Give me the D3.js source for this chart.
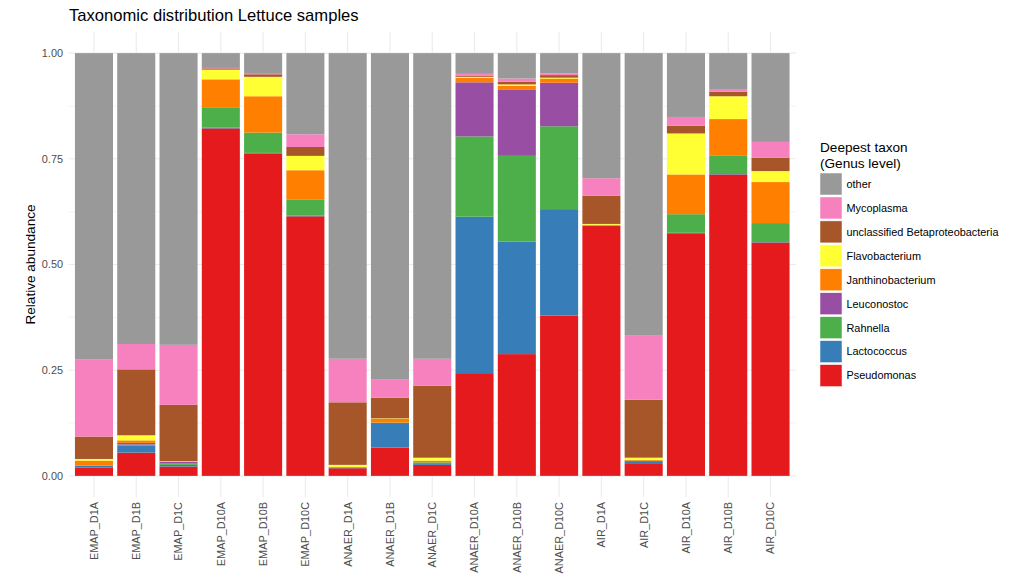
<!DOCTYPE html>
<html><head><meta charset="utf-8">
<script src="https://cdn.jsdelivr.net/npm/d3@7"></script>
<style>body{margin:0;background:#fff}svg{display:block;font-family:"Liberation Sans",Arial,sans-serif}</style>
</head><body><svg id="c" width="1011" height="575"></svg>
<script>
const samples = ["EMAP_D1A","EMAP_D1B","EMAP_D1C","EMAP_D10A","EMAP_D10B","EMAP_D10C","ANAER_D1A","ANAER_D1B","ANAER_D1C","ANAER_D10A","ANAER_D10B","ANAER_D10C","AIR_D1A","AIR_D1C","AIR_D10A","AIR_D10B","AIR_D10C"];
const pseudomonas   = [.020,.055,.022,.822,.762,.614,.018,.067,.026,.243,.288,.379,.591,.030,.574,.713,.552];
const lactococcus   = [.004,.016,.004,.002,.002,.002,.001,.058,.004,.370,.266,.252,.001,.005,.001,.001,.001];
const rahnella      = [.001,.003,.004,.048,.048,.037,0,.001,.002,.190,.203,.196,0,.001,.044,.043,.045];
const leuconostoc   = [0,.004,.004,0,0,0,0,0,0,.128,.156,.103,0,0,0,0,0];
const janthinobacterium = [.011,.006,0,.066,.086,.070,.002,.009,.004,.011,.010,.010,.002,.002,.094,.087,.097];
const flavobacterium = [.004,.012,.001,.023,.046,.034,.005,.001,.007,.002,.003,.002,.002,.005,.097,.054,.026];
const unclBeta      = [.053,.156,.133,.003,.006,.021,.148,.049,.170,.003,.006,.006,.067,.137,.018,.011,.032];
const mycoplasma    = [.182,.060,.142,.001,.001,.030,.103,.044,.064,.004,.008,.004,.041,.153,.021,.006,.037];
const other         = [.725,.688,.690,.035,.049,.192,.723,.771,.723,.049,.060,.048,.296,.667,.151,.085,.210];
const taxa = ["Pseudomonas","Lactococcus","Rahnella","Leuconostoc","Janthinobacterium","Flavobacterium","unclassified Betaproteobacteria","Mycoplasma","other"];
const colors = ["#E41A1C","#377EB8","#4DAF4A","#984EA3","#FF7F00","#FFFF33","#A65628","#F781BF","#999999"];
const yTicks = [0,0.25,0.5,0.75,1];
const yMinor = [0.125,0.375,0.625,0.875];
const yTickLabels = ["0.00","0.25","0.50","0.75","1.00"];

const seriesArrays = [pseudomonas,lactococcus,rahnella,leuconostoc,janthinobacterium,flavobacterium,unclBeta,mycoplasma,other];
const rows = samples.map((s,i)=>{const r={sample:s};taxa.forEach((t,k)=>r[t]=seriesArrays[k][i]);return r;});

const svg = d3.select("#c");
const L=68.6,R=795.9,T=32,B=497;
const x = d3.scaleBand().domain(samples).range([L,R]).paddingInner(0.1).paddingOuter(0.15);
const y = d3.scaleLinear().domain([-0.05,1.05]).range([B,T]);
const color = d3.scaleOrdinal().domain(taxa).range(colors);

const grid = svg.append("g");
grid.selectAll(".mn").data(yMinor).join("line").attr("x1",L).attr("x2",R).attr("y1",d=>y(d)).attr("y2",d=>y(d)).attr("stroke","#ebebeb").attr("stroke-width",0.6);
grid.selectAll(".mj").data(yTicks).join("line").attr("x1",L).attr("x2",R).attr("y1",d=>y(d)).attr("y2",d=>y(d)).attr("stroke","#ebebeb").attr("stroke-width",1.1);
grid.selectAll(".vx").data(samples).join("line").attr("x1",d=>x(d)+x.bandwidth()/2).attr("x2",d=>x(d)+x.bandwidth()/2).attr("y1",T).attr("y2",B).attr("stroke","#ebebeb").attr("stroke-width",1.1);

const stack = d3.stack().keys(taxa)(rows);
svg.append("g").selectAll("g").data(stack).join("g").attr("fill",d=>color(d.key))
  .selectAll("rect").data(d=>d).join("rect")
  .attr("x",d=>x(d.data.sample)).attr("width",x.bandwidth())
  .attr("y",d=>y(d[1])).attr("height",d=>Math.max(0,y(d[0])-y(d[1])));

// y axis labels
svg.append("g").selectAll("text").data(yTicks).join("text")
  .attr("x",63).attr("y",d=>y(d)).attr("dy","0.35em").attr("text-anchor","end")
  .attr("font-size",10.9).attr("fill","#4d4d4d").text((d,i)=>yTickLabels[i]);
// x axis labels
svg.append("g").selectAll("text").data(samples).join("text")
  .attr("transform",d=>`translate(${x(d)+x.bandwidth()/2},502) rotate(-90)`)
  .attr("dy","0.35em").attr("text-anchor","end")
  .attr("font-size",10.9).attr("fill","#4d4d4d").text(d=>d);

svg.append("text").attr("transform",`translate(35,${(T+B)/2}) rotate(-90)`).attr("text-anchor","middle")
  .attr("font-size",13.6).attr("fill","#000").text("Relative abundance");
svg.append("text").attr("x",69).attr("y",21).attr("font-size",16.6).attr("fill","#000").text("Taxonomic distribution Lettuce samples");

// legend
const lg = svg.append("g");
lg.append("text").attr("x",820).attr("y",152).attr("font-size",13.6).text("Deepest taxon");
lg.append("text").attr("x",820).attr("y",168).attr("font-size",13.6).text("(Genus level)");
const legendTaxa = taxa.slice().reverse();
const items = lg.selectAll(".it").data(legendTaxa).join("g").attr("transform",(d,i)=>`translate(820,${173+i*23.95})`);
items.append("rect").attr("width",22).attr("height",22).attr("fill",d=>color(d)).attr("stroke","#fff").attr("stroke-width",0.5);
items.append("text").attr("x",26.5).attr("y",11).attr("dy","0.35em").attr("font-size",10.9).attr("fill","#000").text(d=>d);
</script></body></html>
